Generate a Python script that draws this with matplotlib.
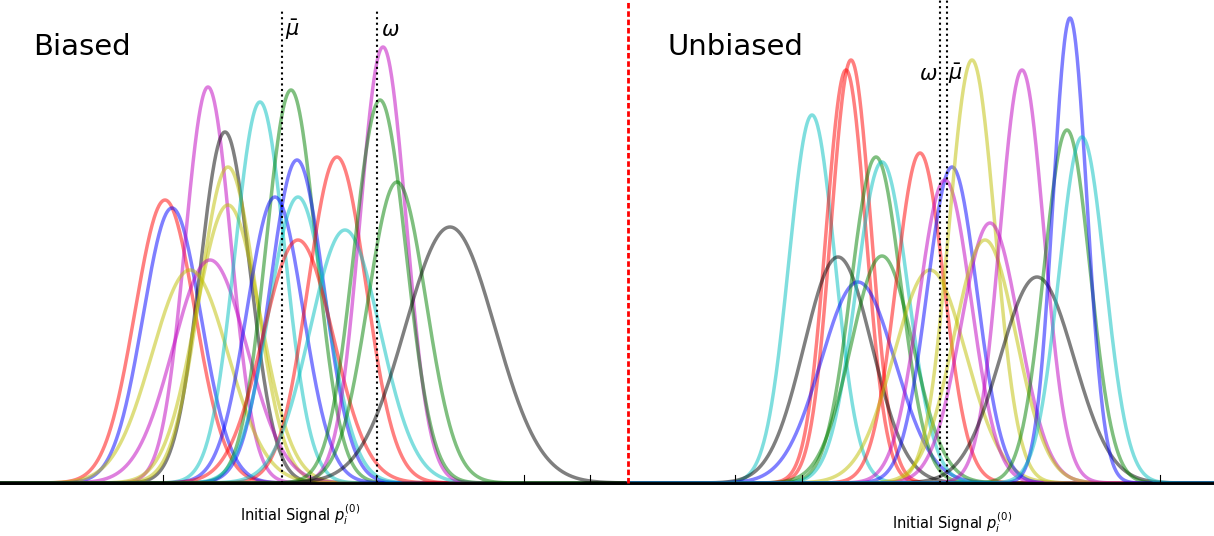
import numpy as np
import matplotlib.pyplot as plt

# Left (biased) panel: center, peak height, sigma
left_mu    = [165, 172, 208, 225, 228, 228, 210, 190, 260, 291, 297, 275, 298, 298, 337, 345, 383, 380, 397, 450]
left_h     = [283, 275, 396, 351, 316, 278, 223, 213, 381, 393, 323, 286, 286, 243, 326, 253, 436, 383, 301, 256]
left_sig   = [30, 29, 23, 25, 28, 32, 37, 38, 25, 25, 27, 28, 29, 35, 29, 35, 23, 26, 29, 45]
left_col   = ['r', 'b', 'm', 'k', 'y', 'y', 'm', 'y', 'c', 'g', 'b', 'b', 'c', 'r', 'r', 'c', 'm', 'g', 'g', 'k']

# Right (unbiased) panel
right_mu   = [812, 851, 846, 838, 858, 876, 882, 882, 920, 930, 952, 945, 972, 990, 985, 1022, 1037, 1067, 1070, 1082]
right_h    = [368, 423, 413, 226, 201, 326, 321, 227, 330, 213, 316, 303, 423, 260, 243, 413, 206, 353, 465, 346]
right_sig  = [23, 20, 20, 34, 37, 25, 26, 31, 24, 36, 25, 26, 23, 29, 31, 22, 37, 23, 17, 23]
right_col  = ['c', 'r', 'r', 'k', 'b', 'g', 'c', 'g', 'r', 'y', 'b', 'm', 'y', 'm', 'y', 'm', 'k', 'g', 'b', 'c']

left_ticks = [163, 310, 376, 524, 590]
right_ticks = [735, 802, 947, 1160]

fig = plt.figure(figsize=(12.14, 5.36), dpi=100)
ax = fig.add_axes([0, 0, 1, 1])
ax.set_xlim(0, 1214)
ax.set_ylim(-53, 483)
ax.axis('off')

xl = np.linspace(0, 627, 1200)
for m, h, s, c in zip(left_mu, left_h, left_sig, left_col):
    ax.plot(xl, h*np.exp(-0.5*((xl-m)/s)**2), color=c, alpha=0.5, lw=2.5)
xr = np.linspace(628, 1214, 1200)
for m, h, s, c in zip(right_mu, right_h, right_sig, right_col):
    ax.plot(xr, h*np.exp(-0.5*((xr-m)/s)**2), color=c, alpha=0.5, lw=2.5)

ax.plot([0, 1214], [0, 0], color='k', lw=2)
for t in left_ticks + right_ticks:
    ax.plot([t, t], [0, 8], color='k', lw=0.8)

ax.plot([628, 628], [0, 483], color='red', ls=(0, (2, 1)), lw=2)
ax.plot([282, 282], [0, 473], color='k', ls=':', lw=1.5)
ax.plot([377, 377], [0, 473], color='k', ls=':', lw=1.5)
ax.plot([940, 940], [0, 483], color='k', ls=':', lw=1.5)
ax.plot([947, 947], [0, 483], color='k', ls=':', lw=1.5)

ax.text(33, 436, 'Biased', fontsize=21, va='center')
ax.text(668, 436, 'Unbiased', fontsize=21, va='center')
ax.text(285, 453, r'$\bar{\mu}$', fontsize=15, va='center')
ax.text(381, 453, r'$\omega$', fontsize=15, va='center')
ax.text(919, 409, r'$\omega$', fontsize=15, va='center')
ax.text(948, 409, r'$\bar{\mu}$', fontsize=15, va='center')
ax.text(300, -32, r'Initial Signal $p_i^{(0)}$', fontsize=10.5, ha='center', va='center')
ax.text(952, -40, r'Initial Signal $p_i^{(0)}$', fontsize=10.5, ha='center', va='center')

fig.savefig('out.png', dpi=100)
